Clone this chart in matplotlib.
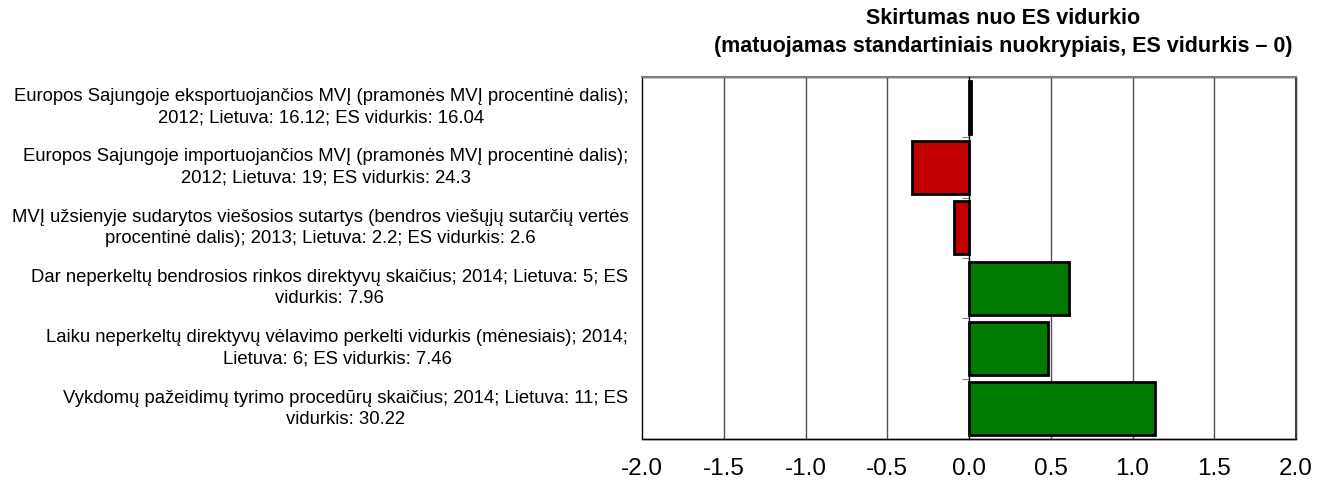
import matplotlib
matplotlib.use("Agg")
import matplotlib.pyplot as plt
import numpy as np

plt.rcParams['font.family'] = ['Liberation Sans', 'DejaVu Sans']

categories = [
    "Europos Sajungoje eksportuojančios MVĮ (pramonės MVĮ procentinė dalis);\n2012; Lietuva: 16.12; ES vidurkis: 16.04",
    "Europos Sajungoje importuojančios MVĮ (pramonės MVĮ procentinė dalis);\n2012; Lietuva: 19; ES vidurkis: 24.3",
    "MVĮ užsienyje sudarytos viešosios sutartys (bendros viešųjų sutarčių vertės\nprocentinė dalis); 2013; Lietuva: 2.2; ES vidurkis: 2.6",
    "Dar neperkeltų bendrosios rinkos direktyvų skaičius; 2014; Lietuva: 5; ES\nvidurkis: 7.96",
    "Laiku neperkeltų direktyvų vėlavimo perkelti vidurkis (mėnesiais); 2014;\nLietuva: 6; ES vidurkis: 7.46",
    "Vykdomų pažeidimų tyrimo procedūrų skaičius; 2014; Lietuva: 11; ES\nvidurkis: 30.22",
]
values = [0.01, -0.35, -0.09, 0.61, 0.485, 1.14]
xticks = [-2.0, -1.5, -1.0, -0.5, 0.0, 0.5, 1.0, 1.5, 2.0]
title = "Skirtumas nuo ES vidurkio\n(matuojamas standartiniais nuokrypiais, ES vidurkis – 0)"

RED = "#C00000"
GREEN = "#007A00"

fig = plt.figure(figsize=(13.27, 4.84), dpi=100)
ax = fig.add_axes([642/1327, 1-439/484, 654/1327, 362/484])

y = np.arange(len(values))
colors = [GREEN if v >= 0 else RED for v in values]
ax.barh(y, values, height=0.88, color=colors, edgecolor='black', linewidth=2, zorder=3)

ax.set_xlim(-2, 2)
ax.set_ylim(len(values) - 0.5, -0.5)
ax.set_xticks(xticks)
ax.set_xticklabels([f"{t:.1f}" for t in xticks], fontsize=17.5)
ax.tick_params(axis='x', length=0, pad=14)

for t in xticks:
    if t not in (-2.0, 0.0, 2.0):
        ax.axvline(t, color='#505050', linewidth=1, zorder=1)

# zero axis with boundary ticks
ax.spines['left'].set_position(('data', 0))
ax.spines['left'].set_color('black')
ax.spines['left'].set_linewidth(1)
ax.spines['left'].set_zorder(4)
ax.set_yticks(np.arange(len(values) + 1) - 0.5)
ax.set_yticklabels([])
ax.tick_params(axis='y', length=5, color='#7f7f7f', direction='out')
for s in ['top', 'right', 'bottom']:
    ax.spines[s].set_color('black')
    ax.spines[s].set_linewidth(1)
ax.patch.set_edgecolor('black')
ax.patch.set_linewidth(1)
ax.spines['top'].set_color('#7f7f7f')
ax.spines['top'].set_linewidth(1.5)
ax.spines['right'].set_color('#404040')
ax.spines['right'].set_linewidth(1.5)

for yi, lab in zip(y, categories):
    ax.text(-0.021, yi, lab, transform=ax.get_yaxis_transform(), ha='right', va='center',
            multialignment='center', fontsize=13.3, linespacing=1.35)

fig.text(1003/1327, 1-32.5/484, title, ha='center', va='center', multialignment='center',
         fontsize=15.5, fontweight='bold', linespacing=1.42)

fig.savefig("out.png", dpi=100)
